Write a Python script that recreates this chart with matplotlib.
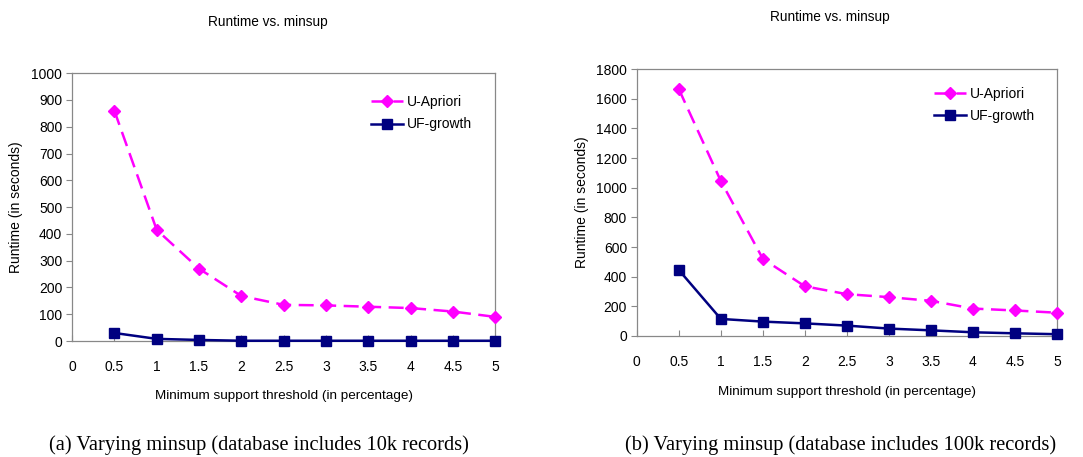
import matplotlib
matplotlib.use("Agg")
import matplotlib.pyplot as plt

plt.rcParams["font.family"] = ["Liberation Sans", "DejaVu Sans"]

minsup = [0.5, 1, 1.5, 2, 2.5, 3, 3.5, 4, 4.5, 5]
xticks = [0, 0.5, 1, 1.5, 2, 2.5, 3, 3.5, 4, 4.5, 5]
xtick_labels = ["0", "0.5", "1", "1.5", "2", "2.5", "3", "3.5", "4", "4.5", "5"]

# (a) 10k records
apriori_10k = [860, 415, 270, 168, 135, 133, 128, 123, 110, 90]
ufgrowth_10k = [30, 8, 4, 1, 1, 1, 1, 1, 1, 1]
yticks_10k = [0, 100, 200, 300, 400, 500, 600, 700, 800, 900, 1000]

# (b) 100k records
apriori_100k = [1665, 1045, 520, 335, 282, 262, 237, 185, 172, 157]
ufgrowth_100k = [445, 115, 97, 85, 70, 50, 38, 25, 18, 12]
yticks_100k = [0, 200, 400, 600, 800, 1000, 1200, 1400, 1600, 1800]

MAGENTA = "#FF00FF"
NAVY = "#000080"
GRAY = "#888888"


def draw(ax, apriori, ufgrowth, yticks, legend_anchor):
    ax.plot(minsup, apriori, color=MAGENTA, linestyle=(0, (6, 3)), linewidth=1.8,
            marker="D", markersize=6, label="U-Apriori", clip_on=False, zorder=3)
    ax.plot(minsup, ufgrowth, color=NAVY, linewidth=1.8,
            marker="s", markersize=7, label="UF-growth", clip_on=False, zorder=3)
    ax.set_xlim(0, 5)
    ax.set_ylim(yticks[0], yticks[-1])
    ax.set_xticks(xticks)
    ax.set_xticklabels(xtick_labels)
    ax.set_yticks(yticks)
    ax.tick_params(axis="x", direction="in", length=4, pad=14, labelsize=10, color=GRAY)
    ax.tick_params(axis="y", direction="out", length=4, pad=3, labelsize=10, color=GRAY)
    for sp in ax.spines.values():
        sp.set_color(GRAY)
        sp.set_linewidth(0.9)
    ax.legend(loc="upper left", bbox_to_anchor=legend_anchor, frameon=False,
              fontsize=10, handlelength=2.3, handletextpad=0.3, labelspacing=0.6)


fig = plt.figure(figsize=(10.83, 4.57), dpi=100)
ax1 = fig.add_axes([0.0665, 0.2538, 0.391, 0.586])
ax2 = fig.add_axes([0.588, 0.2648, 0.388, 0.584])

draw(ax1, apriori_10k, ufgrowth_10k, yticks_10k, (0.677, 0.965))
draw(ax2, apriori_100k, ufgrowth_100k, yticks_100k, (0.677, 0.98))

fig.text(0.247, 0.952, "Runtime vs. minsup", ha="center", va="center", fontsize=9.8)
fig.text(0.766, 0.963, "Runtime vs. minsup", ha="center", va="center", fontsize=9.8)

fig.text(0.262, 0.133, "Minimum support threshold (in percentage)", ha="center", va="center", fontsize=9.7)
fig.text(0.782, 0.142, "Minimum support threshold (in percentage)", ha="center", va="center", fontsize=9.7)

fig.text(0.015, 0.547, "Runtime (in seconds)", rotation=90, ha="center", va="center", fontsize=10)
fig.text(0.537, 0.557, "Runtime (in seconds)", rotation=90, ha="center", va="center", fontsize=10)

fig.text(0.239, 0.025, "(a) Varying minsup (database includes 10k records)",
         ha="center", va="center", fontsize=14.7, family=["Liberation Serif"])
fig.text(0.776, 0.025, "(b) Varying minsup (database includes 100k records)",
         ha="center", va="center", fontsize=14.7, family=["Liberation Serif"])

fig.savefig("out.png", dpi=100)
